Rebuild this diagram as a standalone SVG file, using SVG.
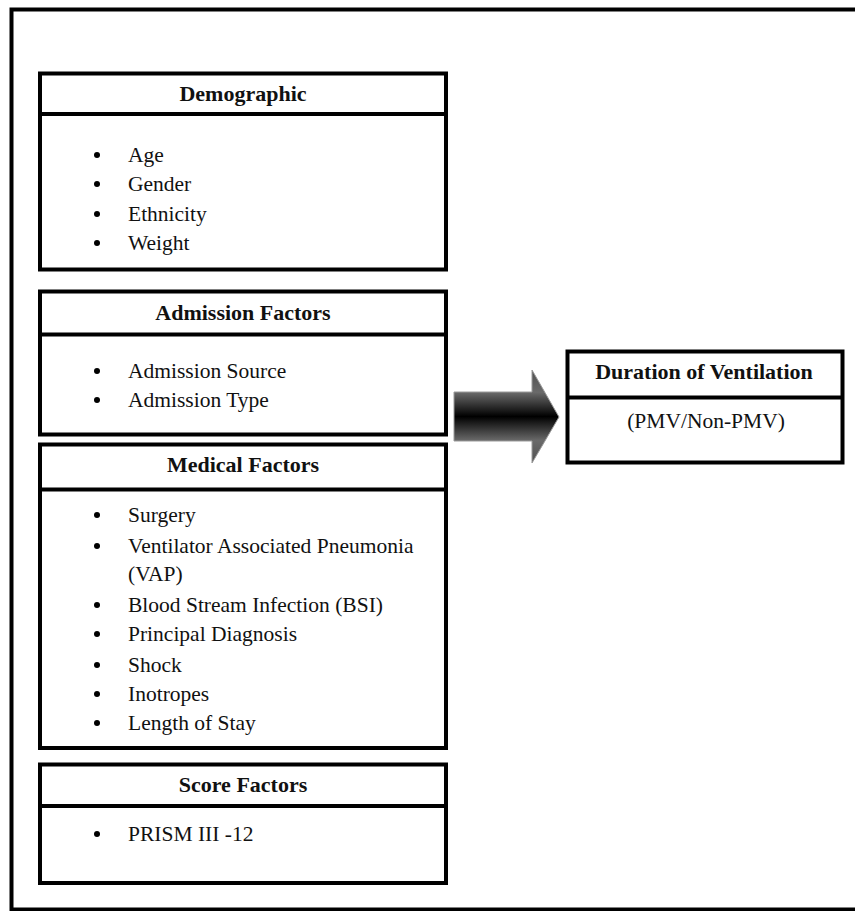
<svg xmlns="http://www.w3.org/2000/svg" width="855" height="911" viewBox="0 0 855 911">
<style>
.box{fill:#fff;stroke:#000;stroke-width:4}
.div{stroke:#000;stroke-width:4}
.h{font-family:"Liberation Serif","Times New Roman",serif;font-weight:bold;font-size:22px;fill:#111;text-anchor:middle}
.t{font-family:"Liberation Serif","Times New Roman",serif;font-size:21.5px;fill:#111}
.b{fill:#000}
</style>
<defs>
<linearGradient id="ag" gradientUnits="userSpaceOnUse" x1="0" y1="370" x2="0" y2="463">
<stop offset="0" stop-color="#505050"/>
<stop offset="0.24" stop-color="#6a6a6a"/>
<stop offset="0.5" stop-color="#000"/>
<stop offset="0.76" stop-color="#6a6a6a"/>
<stop offset="1" stop-color="#505050"/>
</linearGradient>
</defs>
<rect x="0" y="0" width="855" height="911" fill="#fff"/>
<rect x="11.5" y="9.5" width="900" height="900" fill="none" stroke="#000" stroke-width="4"/>

<g id="demographic">
<rect class="box" x="40" y="73.5" width="406" height="196"/>
<line class="div" x1="40" y1="114" x2="446" y2="114"/>
<text class="h" x="243" y="101">Demographic</text>
<circle class="b" cx="97" cy="155" r="3"/><text class="t" x="128" y="162">Age</text>
<circle class="b" cx="97" cy="184" r="3"/><text class="t" x="128" y="191">Gender</text>
<circle class="b" cx="97" cy="214" r="3"/><text class="t" x="128" y="221">Ethnicity</text>
<circle class="b" cx="97" cy="243" r="3"/><text class="t" x="128" y="250">Weight</text>
</g>

<g id="admission">
<rect class="box" x="40" y="291.5" width="406" height="143"/>
<line class="div" x1="40" y1="334.5" x2="446" y2="334.5"/>
<text class="h" x="243" y="320">Admission Factors</text>
<circle class="b" cx="97" cy="371" r="3"/><text class="t" x="128" y="378">Admission Source</text>
<circle class="b" cx="97" cy="400" r="3"/><text class="t" x="128" y="407">Admission Type</text>
</g>

<g id="medical">
<rect class="box" x="40" y="444.5" width="406" height="303.5"/>
<line class="div" x1="40" y1="489.5" x2="446" y2="489.5"/>
<text class="h" x="243" y="472">Medical Factors</text>
<circle class="b" cx="97" cy="515" r="3"/><text class="t" x="128" y="522">Surgery</text>
<circle class="b" cx="97" cy="546" r="3"/><text class="t" x="128" y="553">Ventilator  Associated Pneumonia</text>
<text class="t" x="128" y="581">(VAP)</text>
<circle class="b" cx="97" cy="605" r="3"/><text class="t" x="128" y="612">Blood Stream Infection (BSI)</text>
<circle class="b" cx="97" cy="634" r="3"/><text class="t" x="128" y="641">Principal Diagnosis</text>
<circle class="b" cx="97" cy="665" r="3"/><text class="t" x="128" y="672">Shock</text>
<circle class="b" cx="97" cy="694" r="3"/><text class="t" x="128" y="701">Inotropes</text>
<circle class="b" cx="97" cy="723" r="3"/><text class="t" x="128" y="730">Length of Stay</text>
</g>

<g id="score">
<rect class="box" x="40" y="764.5" width="406" height="118.5"/>
<line class="div" x1="40" y1="806" x2="446" y2="806"/>
<text class="h" x="243" y="792">Score Factors</text>
<circle class="b" cx="97" cy="834" r="3"/><text class="t" x="128" y="841">PRISM III -12</text>
</g>

<g id="duration">
<rect class="box" x="567.5" y="351.5" width="275" height="111"/>
<line class="div" x1="567.5" y1="397.5" x2="842.5" y2="397.5"/>
<text class="h" x="704" y="379">Duration of Ventilation</text>
<text class="t" x="706" y="428" text-anchor="middle">(PMV/Non-PMV)</text>
</g>

<g id="connectors">
<path d="M454,392 L532,392 L532,370 L559,417 L532,463 L532,441 L454,441 Z" fill="url(#ag)" stroke="#9a9a9a" stroke-width="1"/>
</g>
</svg>
